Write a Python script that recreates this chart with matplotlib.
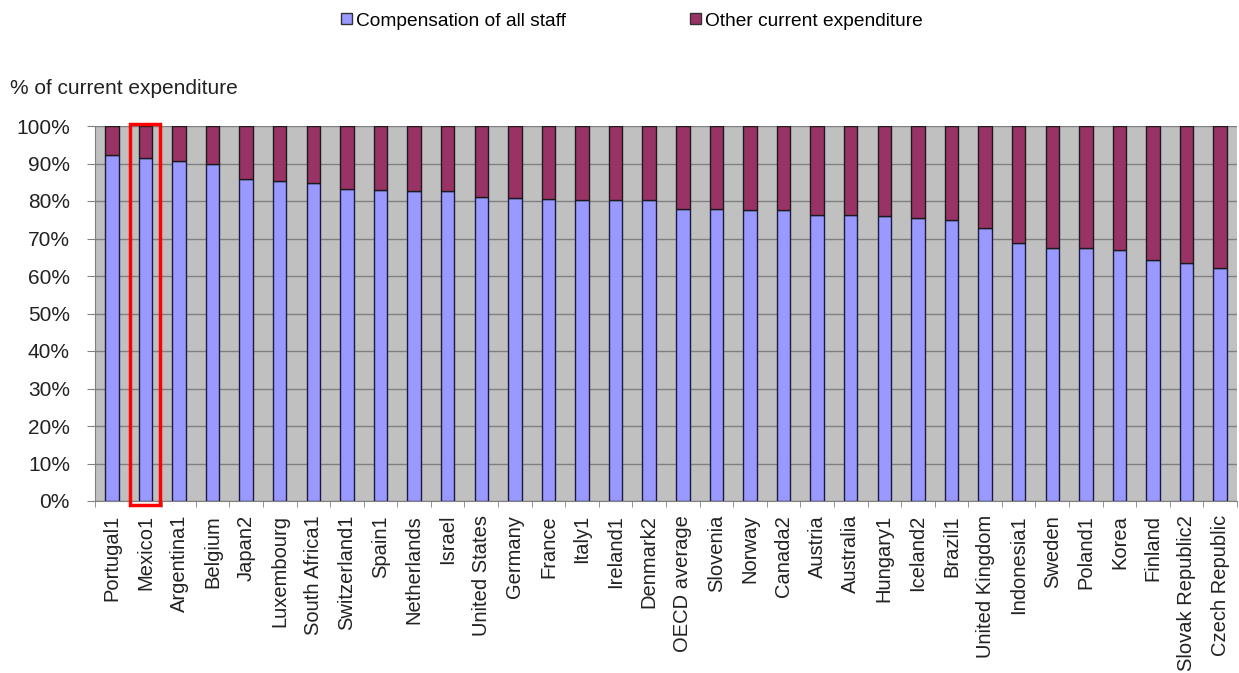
import numpy as np
import matplotlib
matplotlib.use("Agg")
import matplotlib.pyplot as plt
from matplotlib.patches import Patch, Rectangle

# -----------------------------
# Data
# -----------------------------
countries = [
    "Portugal1", "Mexico1", "Argentina1", "Belgium", "Japan2", "Luxembourg",
    "South Africa1", "Switzerland1", "Spain1", "Netherlands", "Israel",
    "United States", "Germany", "France", "Italy1", "Ireland1", "Denmark2",
    "OECD average", "Slovenia", "Norway", "Canada2", "Austria", "Australia",
    "Hungary1", "Iceland2", "Brazil1", "United Kingdom", "Indonesia1",
    "Sweden", "Poland1", "Korea", "Finland", "Slovak Republic2",
    "Czech Republic",
]
staff = [
    92.4, 91.5, 90.8, 89.9, 86.0, 85.3, 84.7, 83.3, 82.9, 82.7, 82.6,
    81.2, 80.9, 80.5, 80.4, 80.2, 80.2, 78.0, 78.0, 77.5, 77.5, 76.4,
    76.4, 75.9, 75.6, 74.9, 72.9, 68.7, 67.6, 67.6, 66.9, 64.2, 63.6,
    62.1,
]
other = [100 - v for v in staff]
yticks = list(range(0, 101, 10))

blue = "#9999FF"
purple = "#993366"

plt.rcParams["font.family"] = ["Liberation Sans", "DejaVu Sans"]

fig = plt.figure(figsize=(12.39, 6.73), dpi=100)
ax = fig.add_axes([95 / 1239, 1 - 501 / 673, 1142 / 1239, 375 / 673])

x = np.arange(len(countries))
ax.bar(x, staff, width=0.4, color=blue, edgecolor="#1a1a40", linewidth=1, zorder=3)
ax.bar(x, other, width=0.4, bottom=staff, color=purple, edgecolor="#1a1a1a",
       linewidth=1, zorder=3)

ax.set_facecolor("#C0C0C0")
ax.set_xlim(-0.5, len(countries) - 0.5)
ax.set_ylim(0, 100)
ax.set_yticks(yticks)
ax.set_yticklabels([f"{t}%" for t in yticks], fontsize=15, color="#222222")
ax.yaxis.grid(True, color="#808080", linewidth=1, zorder=0)
ax.set_axisbelow(True)

ax.set_xticks(x)
ax.set_xticklabels(countries, rotation=90, fontsize=14.5, color="#222222")
ax.set_xticks(np.arange(-0.5, len(countries), 1), minor=True)
ax.tick_params(axis="x", which="major", length=0, pad=10)
ax.tick_params(axis="x", which="minor", length=4.5, color="#808080")
ax.tick_params(axis="y", length=6, color="#808080", pad=12)

for side in ["top", "right"]:
    ax.spines[side].set_visible(False)
for side in ["left", "bottom"]:
    ax.spines[side].set_color("#808080")

# highlight Mexico
ax.add_patch(Rectangle((1 - 0.45, -1), 0.9, 101.5, fill=False, edgecolor="red",
                       linewidth=2.5, clip_on=False, zorder=5))

fig.text(10 / 1239, 1 - 88 / 673, "% of current expenditure", fontsize=15,
         va="center", ha="left", color="#222222")

handles = [
    Patch(facecolor=blue, edgecolor="#333333", label="Compensation of all staff"),
    Patch(facecolor=purple, edgecolor="#333333", label="Other current expenditure"),
]
fig.legend(handles=handles, loc="center", bbox_to_anchor=(632 / 1239, 1 - 21 / 673),
           ncol=2, frameon=False, fontsize=13.8, handlelength=0.55, handleheight=0.55,
           handletextpad=0.2, columnspacing=6.5)

fig.savefig("out.png", dpi=100)
plt.close(fig)
